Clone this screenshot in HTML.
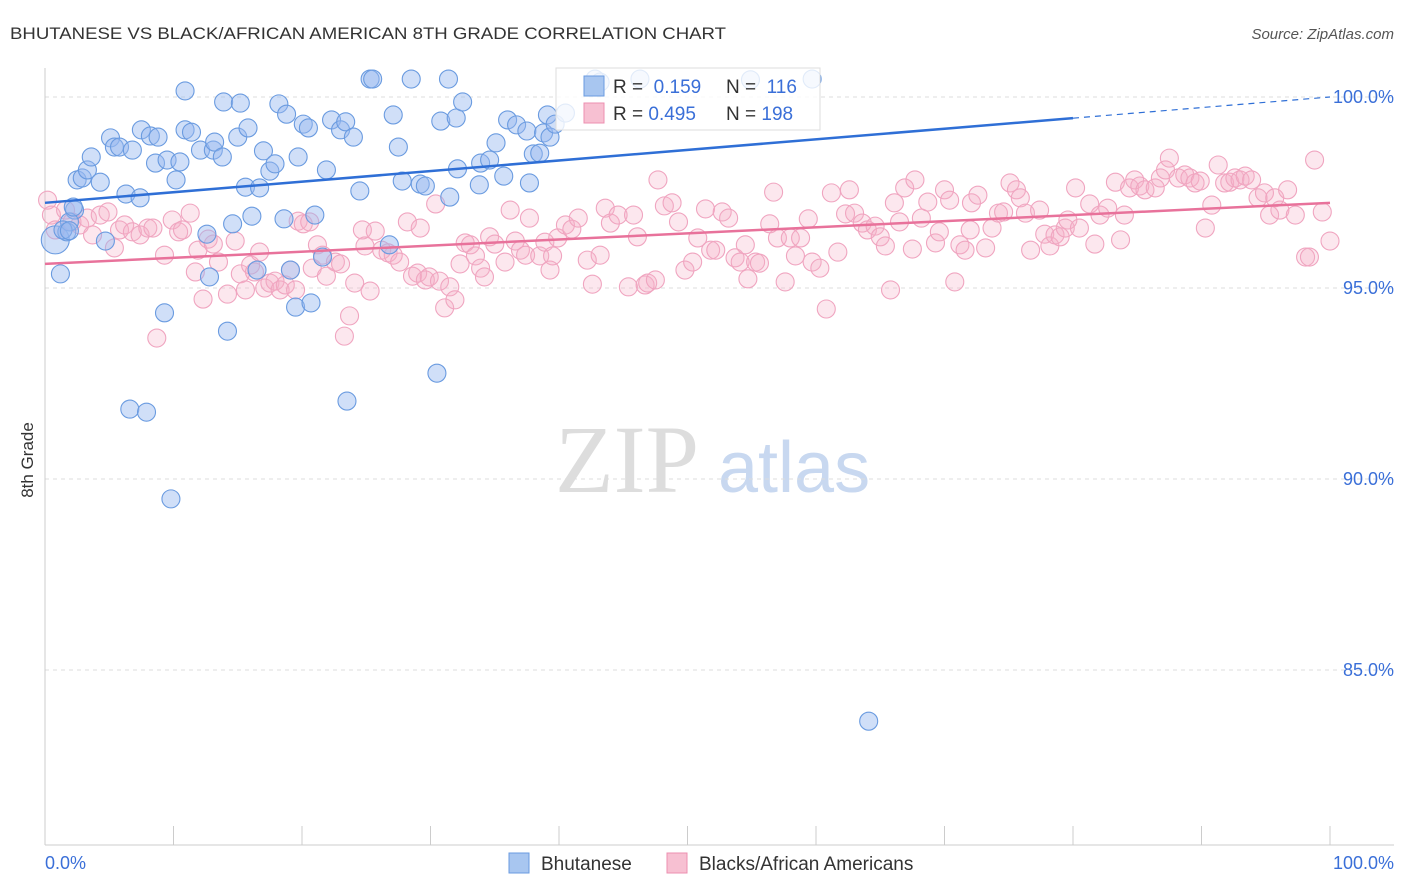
<!DOCTYPE html>
<html><head><meta charset="utf-8"><style>
body{margin:0;background:#fff;font-family:"Liberation Sans",sans-serif;}
svg{display:block}
</style></head><body>
<svg id="chart" width="1406" height="892">
<text x="10" y="39" font-size="17" fill="#333" textLength="716" lengthAdjust="spacingAndGlyphs">BHUTANESE VS BLACK/AFRICAN AMERICAN 8TH GRADE CORRELATION CHART</text>
<text x="1394" y="39" font-size="15" fill="#555" font-style="italic" text-anchor="end">Source: ZipAtlas.com</text>
<g>
<text x="555" y="492" font-size="96" fill="#ddd" font-family="Liberation Serif,serif">ZIP</text>
<text x="718" y="492" font-size="72" fill="#c8d8f0">atlas</text>
</g>
<g id="grid"></g><g id="axes"></g><g id="pts"></g><g id="lines"></g>
<text x="33" y="460" font-size="17" fill="#333" transform="rotate(-90 33 460)" text-anchor="middle">8th Grade</text>
<g>
<rect x="556" y="68" width="264" height="62" fill="#fff" fill-opacity="0.8" stroke="#ddd"/>
<rect x="584" y="76" width="20" height="20" fill="#a8c6f0" stroke="#6a9be0"/>
<rect x="584" y="103" width="20" height="20" fill="#f7c0d2" stroke="#ec8fb0"/>
<text x="613" y="93" font-size="19" fill="#333">R = <tspan fill="#3a6fd8">&#160;0.159</tspan></text>
<text x="726" y="93" font-size="19" fill="#333">N = <tspan fill="#3a6fd8">&#160;116</tspan></text>
<text x="613" y="120" font-size="19" fill="#333">R = <tspan fill="#3a6fd8">0.495</tspan></text>
<text x="726" y="120" font-size="19" fill="#333">N = <tspan fill="#3a6fd8">198</tspan></text>
</g>
<g>
<rect x="509" y="853" width="20" height="20" fill="#a8c6f0" stroke="#6a9be0"/>
<text x="541" y="870" font-size="19" fill="#333">Bhutanese</text>
<rect x="667" y="853" width="20" height="20" fill="#f7c0d2" stroke="#ec8fb0"/>
<text x="699" y="870" font-size="19" fill="#333">Blacks/African Americans</text>
</g>
<text x="45" y="869" font-size="18" fill="#3a6fd8">0.0%</text>
<text x="1394" y="869" font-size="18" fill="#3a6fd8" text-anchor="end">100.0%</text>
</svg>
<script>
const yTicks=[100,95,90,85];
const yTickLabels=["100.0%","95.0%","90.0%","85.0%"];
const xTicks=[0,10,20,30,40,50,60,70,80,90,100];
const blueX=[0.8,1.2,1.7,2.3,2.5,2.9,3.3,3.6,4.3,4.7,5.1,5.4,5.8,6.3,6.8,7.4,7.5,8.2,8.6,8.8,9.3,9.5,10.2,10.5,10.9,10.9,11.4,12.1,12.6,12.8,13.1,13.2,13.8,13.9,14.2,14.6,15.0,15.2,15.6,15.8,16.1,16.5,16.7,17.0,17.5,17.9,18.2,18.6,18.8,19.1,19.5,19.7,20.1,20.5,20.7,21.0,21.6,21.9,22.3,23.0,23.4,23.5,24.0,24.5,25.3,25.5,26.8,27.1,27.5,27.8,28.5,29.2,29.6,30.5,30.8,31.4,31.5,32.0,32.1,32.5,33.8,33.9,34.6,35.1,35.7,36.0,36.7,37.5,37.7,38.0,38.5,38.8,39.1,39.3,39.7,40.5,42.8,43.2,46.3,54.9,59.7,64.1,6.6,7.9,9.8,1.9,2.2,1.4,1.9];
const blueY=[96.26,95.37,96.47,97.04,97.83,97.88,98.09,98.43,97.77,96.23,98.93,98.69,98.69,97.46,98.61,97.36,99.14,98.98,98.27,98.95,94.35,98.35,97.83,98.30,100.16,99.14,99.08,98.61,96.41,95.29,98.61,98.82,98.43,99.87,93.87,96.68,98.95,99.84,97.64,99.19,96.88,95.47,97.62,98.59,98.06,98.25,99.82,96.81,99.55,95.47,94.50,98.43,99.29,99.19,94.61,96.91,95.81,98.09,99.40,99.14,99.35,92.04,98.95,97.54,100.47,100.47,96.13,99.53,98.69,97.80,100.47,97.72,97.67,92.77,99.37,100.47,97.38,99.45,98.12,99.87,97.70,98.27,98.35,98.80,97.93,99.40,99.27,99.11,97.75,98.51,98.53,99.06,99.53,98.95,99.29,99.58,100.47,100.39,100.47,100.45,100.47,83.66,91.83,91.75,89.48,96.73,97.12,96.52,96.5];
const pinkX=[0.2,0.5,0.8,1.6,2.1,2.7,3.3,3.7,4.3,4.9,5.4,5.8,6.2,6.8,7.4,8.0,8.4,8.7,9.3,9.9,10.4,10.7,11.3,11.7,11.9,12.3,12.7,13.1,13.5,14.2,14.8,15.2,15.6,16.0,16.3,16.7,17.1,17.5,17.9,18.3,18.7,19.1,19.5,19.7,20.1,20.6,20.8,21.2,21.6,21.9,22.6,23.0,23.3,23.7,24.1,24.7,24.9,25.3,25.7,26.2,26.7,27.1,27.6,28.2,28.6,29.0,29.2,29.6,29.9,30.4,30.7,31.1,31.5,31.9,32.3,32.7,33.1,33.5,33.9,34.2,34.6,35.0,35.8,36.2,36.6,37.0,37.4,37.7,38.5,38.9,39.3,39.5,39.9,40.5,41.0,41.5,42.2,42.6,43.2,43.6,44.0,44.6,45.4,45.8,46.1,46.7,46.9,47.5,47.7,48.2,48.8,49.3,49.8,50.4,50.8,51.4,51.8,52.2,52.7,53.2,53.7,54.1,54.5,54.7,55.3,55.6,56.4,56.7,57.0,57.6,58.0,58.4,58.8,59.4,59.7,60.3,60.8,61.2,61.7,62.3,62.6,63.0,63.6,64.0,64.6,65.0,65.4,65.8,66.1,66.5,66.9,67.5,67.7,68.2,68.7,69.3,69.6,70.0,70.4,70.8,71.2,71.6,72.0,72.1,72.6,73.2,73.7,74.2,74.6,75.1,75.6,75.9,76.3,76.7,77.4,77.8,78.2,78.6,79.0,79.4,79.6,80.2,80.5,81.3,81.7,82.1,82.7,83.3,83.7,84.0,84.4,84.8,85.2,85.6,86.4,86.8,87.2,87.5,88.2,88.7,89.1,89.5,89.9,90.3,90.8,91.3,91.8,92.2,92.6,93.0,93.4,93.9,94.4,94.9,95.3,95.7,96.1,96.7,97.3,98.1,98.4,98.8,99.4,100.0];
const pinkY=[97.30,96.91,96.52,97.04,96.73,96.65,96.83,96.39,96.91,96.99,96.05,96.52,96.65,96.47,96.39,96.57,96.57,93.69,95.86,96.78,96.47,96.52,96.96,95.42,95.99,94.71,96.28,96.15,95.68,94.84,96.23,95.37,94.95,95.60,95.42,95.94,95.00,95.13,95.18,94.95,95.08,95.47,94.95,96.75,96.68,96.73,95.52,96.13,95.86,95.31,95.68,95.63,93.74,94.27,95.13,96.52,96.10,94.92,96.49,95.99,95.92,95.86,95.68,96.73,95.31,95.39,96.57,95.21,95.29,97.20,95.18,94.48,95.03,94.69,95.63,96.18,96.13,95.84,95.52,95.29,96.34,96.15,95.68,97.04,96.23,95.99,95.86,96.83,95.84,96.20,95.47,95.84,96.31,96.65,96.54,96.83,95.73,95.10,95.86,97.09,96.70,96.91,95.03,96.91,96.34,95.08,95.13,95.21,97.83,97.15,97.23,96.73,95.47,95.68,96.31,97.07,95.99,95.99,96.99,96.83,95.79,95.68,96.13,95.24,95.68,95.65,96.68,97.51,96.31,95.16,96.31,95.84,96.31,96.81,95.68,95.52,94.45,97.49,95.94,96.94,97.57,96.96,96.70,96.52,96.62,96.34,96.10,94.95,97.23,96.73,97.62,96.02,97.83,96.83,97.25,96.18,96.47,97.57,97.30,95.16,96.13,95.99,96.52,97.23,97.43,96.05,96.57,96.96,96.99,97.75,97.57,97.36,96.96,95.99,97.04,96.41,96.10,96.39,96.34,96.57,96.78,97.62,96.57,97.20,96.15,96.91,97.09,97.77,96.26,96.91,97.62,97.83,97.67,97.57,97.62,97.88,98.09,98.40,97.88,97.96,97.88,97.75,97.80,96.57,97.17,98.22,97.75,97.77,97.88,97.83,97.93,97.83,97.36,97.49,96.91,97.36,97.04,97.57,96.91,95.81,95.81,98.35,96.99,96.23];
const blueTrend=[97.23,100.0];
const pinkTrend=[95.63,97.23];
const NS="http://www.w3.org/2000/svg";
const X0=45,X1=1330,YT=97,YPX=38.2;
const sx=v=>X0+(X1-X0)*v/100;
const sy=v=>YT+(100-v)*YPX;
function mk(tag,attrs,parent){const e=document.createElementNS(NS,tag);for(const k in attrs)e.setAttribute(k,attrs[k]);parent.appendChild(e);return e;}
const grid=document.getElementById('grid'),axes=document.getElementById('axes'),pts=document.getElementById('pts'),lines=document.getElementById('lines');
yTicks.forEach((t,i)=>{
 const l=mk('line',{x1:X0,x2:1394,y1:sy(t),y2:sy(t),stroke:'#ddd','stroke-dasharray':'4,4'},grid);
 
 
 const tx=mk('text',{x:1394,y:sy(t)+6,'font-size':18,fill:'#3a6fd8','text-anchor':'end'},grid);
 tx.textContent=yTickLabels[i];
 
 
});
const ya=mk('line',{x1:X0,x2:X0,y1:68,y2:845,stroke:'#ccc'},axes);


const xa=mk('line',{x1:X0,x2:1394,y1:845,y2:845,stroke:'#ccc'},axes);


xTicks.forEach(t=>{
 const l=mk('line',{x1:sx(t),x2:sx(t),y1:826,y2:845,stroke:'#ccc'},axes);
 
 
});
pinkX.forEach((x,i)=>{
 const c=mk('circle',{cx:sx(x),cy:sy(pinkY[i]),r:9,fill:'rgba(245,175,200,0.3)',stroke:'#f0a5c0','stroke-width':1.1},pts);
 
 
});
blueX.forEach((x,i)=>{
 const c=mk('circle',{cx:sx(x),cy:sy(blueY[i]),r:i===0?14:9,fill:'rgba(150,185,240,0.45)',stroke:'#6a9be0','stroke-width':1.1},pts);
 
 
});
const by=x=>blueTrend[0]+(blueTrend[1]-blueTrend[0])*x/100;
const b1=mk('line',{x1:sx(0),y1:sy(by(0)),x2:sx(80),y2:sy(by(80)),stroke:'#2f6fd6','stroke-width':2.5},lines);


const b2=mk('line',{x1:sx(80),y1:sy(by(80)),x2:sx(100),y2:sy(by(100)),stroke:'#2f6fd6','stroke-width':1.2,'stroke-dasharray':'6,5'},lines);


const p1=mk('line',{x1:sx(0),y1:sy(pinkTrend[0]),x2:sx(100),y2:sy(pinkTrend[1]),stroke:'#e8729b','stroke-width':2.5},lines);


</script>
</body></html>
